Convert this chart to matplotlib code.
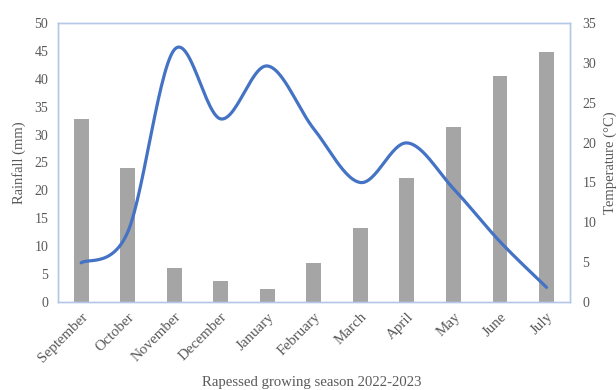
import numpy as np
import matplotlib.pyplot as plt
import matplotlib.transforms as mtransforms

months = ["September", "October", "November", "December", "January", "February",
          "March", "April", "May", "June", "July"]
rainfall = [7.0, 12.5, 45.2, 32.8, 42.3, 31.0, 21.4, 28.5, 20.3, 10.8, 2.6]
temperature = [23.0, 16.8, 4.3, 2.6, 1.6, 4.9, 9.3, 15.6, 22.0, 28.3, 31.4]

plt.rcParams['font.family'] = ['Liberation Serif', 'DejaVu Serif']
txt = "#595959"
frame = "#B4C7E7"


def smooth(y, n=30):
    # Catmull-Rom style smoothing, similar to Excel's smoothed line
    y = np.asarray(y, float)
    x = np.arange(len(y), dtype=float)
    px = np.concatenate([[x[0]], x, [x[-1]]])
    py = np.concatenate([[y[0]], y, [y[-1]]])
    xs, ys = [], []
    t = np.linspace(0, 1, n)
    for i in range(1, len(px) - 2):
        p0, p1, p2, p3 = py[i - 1], py[i], py[i + 1], py[i + 2]
        q0, q1, q2, q3 = px[i - 1], px[i], px[i + 1], px[i + 2]
        c1y, c2y = p1 + (p2 - p0) / 6, p2 - (p3 - p1) / 6
        c1x, c2x = q1 + (q2 - q0) / 6, q2 - (q3 - q1) / 6
        b = [(1 - t) ** 3, 3 * (1 - t) ** 2 * t, 3 * (1 - t) * t ** 2, t ** 3]
        xs.append(b[0] * q1 + b[1] * c1x + b[2] * c2x + b[3] * q2)
        ys.append(b[0] * p1 + b[1] * c1y + b[2] * c2y + b[3] * p2)
    return np.concatenate(xs), np.concatenate(ys)


fig = plt.figure(figsize=(6.16, 3.9), dpi=100)
ax = fig.add_axes([0.094, 0.226, 0.831, 0.715])
ax2 = ax.twinx()

x = np.arange(len(months))
ax2.bar(x, temperature, width=0.32, color="#A5A5A5")
sx, sy = smooth(rainfall)
ax.plot(sx, sy, color="#4472C4", lw=2.3, solid_capstyle="round")

ax.set_zorder(ax2.get_zorder() + 1)
ax.patch.set_visible(False)

ax.set_xlim(-0.5, len(months) - 0.5)
ax.set_ylim(0, 50)
ax.set_yticks(range(0, 51, 5))
ax2.set_ylim(0, 35)
ax2.set_yticks(range(0, 36, 5))

ax.set_xticks(x)
ax.set_xticklabels(months, rotation=45, ha="right", rotation_mode="anchor")
shift = mtransforms.ScaledTranslation(-3 / 100, -2 / 100, fig.dpi_scale_trans)
for lab in ax.get_xticklabels():
    lab.set_transform(lab.get_transform() + shift)

for a in (ax, ax2):
    a.tick_params(length=0, colors=txt, labelsize=10)
    for s in a.spines.values():
        s.set_color(frame)
        s.set_linewidth(1)
ax.tick_params(axis="y", pad=7)
ax.tick_params(axis="x", pad=6, labelsize=10.8)
ax2.tick_params(axis="y", pad=9)

ax.set_ylabel("Rainfall (mm)", color=txt, fontsize=10.5, labelpad=6)
ax2.set_ylabel("Temperature (°C)", color=txt, fontsize=10.5, labelpad=5)
fig.text(312 / 616, 4 / 390, "Rapessed growing season 2022-2023", color=txt,
         fontsize=10.6, ha="center", va="baseline")

plt.savefig("out.png", dpi=100)
